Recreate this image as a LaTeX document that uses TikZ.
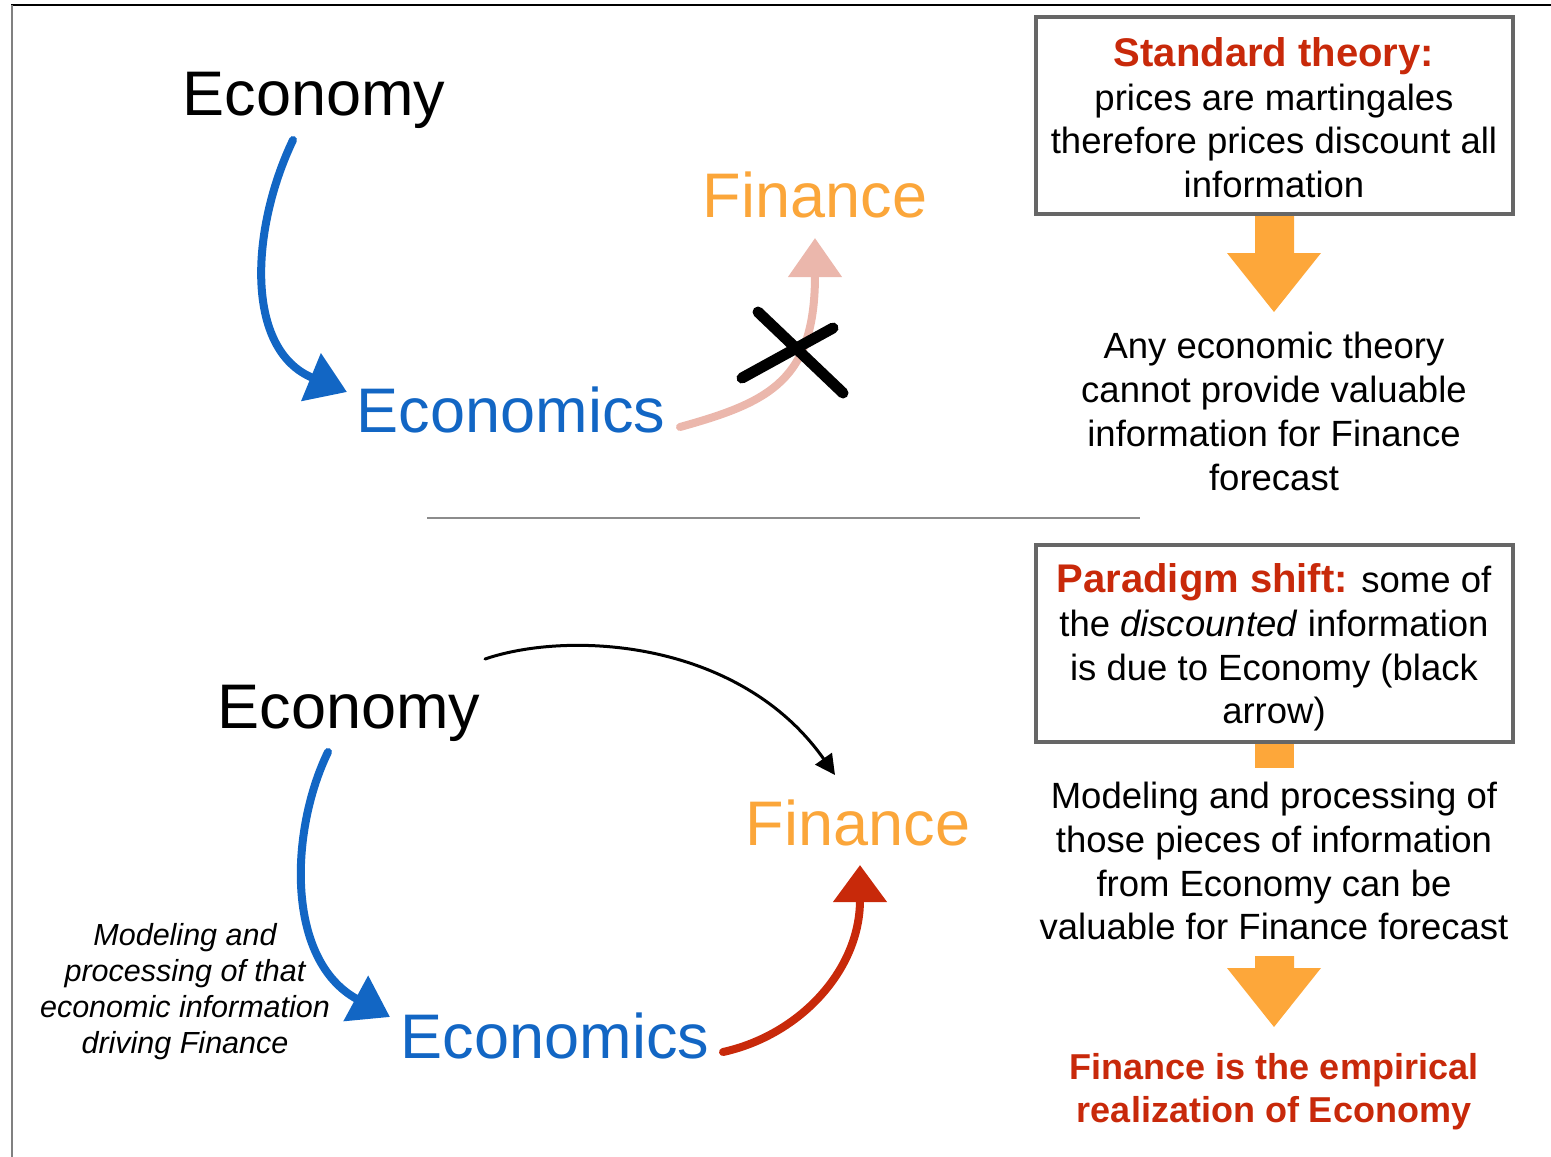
\documentclass[tikz,border=0pt]{standalone}
\usepackage{fontspec}
\setmainfont{Liberation Sans}
\usetikzlibrary{arrows.meta}
\definecolor{ecoblue}{RGB}{18,102,196}
\definecolor{finorange}{RGB}{251,166,58}
\definecolor{arrorange}{RGB}{253,167,58}
\definecolor{paradred}{RGB}{200,41,10}
\definecolor{chalkpink}{RGB}{235,183,172}
\definecolor{boxgray}{RGB}{102,102,102}
\tikzset{
  big/.style={font=\fontsize{63}{70}\selectfont, inner sep=0pt, anchor=base},
  body/.style={font=\fontsize{36.5}{43.5}\selectfont, inner sep=0pt, anchor=base},
  title/.style={font=\fontsize{40}{44}\selectfont\bfseries, text=paradred, inner sep=0pt, anchor=base},
  note/.style={font=\fontsize{30.5}{36.5}\selectfont\itshape, inner sep=0pt, anchor=base},
  concl/.style={font=\fontsize{36}{43}\selectfont\bfseries, text=paradred, inner sep=0pt, anchor=base},
  chalk/.style={line width=8pt, line cap=round, line join=round},
  infobox/.style={draw=boxgray, line width=4pt, minimum width=477pt, minimum height=197pt, inner sep=0pt},
  blockarrow/.style={fill=arrorange, draw=none},
}
\begin{document}
\begin{tikzpicture}[x=1pt,y=-1pt]
\useasboundingbox (0,0) rectangle (1551,1157);
% frame
\draw[black, line width=1.5pt] (11,5) -- (1551,5);
\draw[gray, line width=2pt] (12,5) -- (12,1157);
% separator
\draw[gray!90, line width=2pt] (427,518) -- (1140,518);

% ---------- top section ----------
\node[big] (eco1) at (314,115) {Economy};
\node[big, text=finorange] (fin1) at (815,217) {Finance};
\node[big, text=ecoblue] (ecs1) at (511,432) {Economics};

\coordinate (a1s) at (293,140);
\coordinate (a1e) at (347,392);
\draw[chalk, ecoblue, -{Triangle[length=39pt,width=50pt]}] (a1s) .. controls (250,230) and (245,350) .. (a1e);

\coordinate (b1s) at (680,427);
\coordinate (b1e) at (815,238);
\draw[chalk, chalkpink, -{Triangle[length=39pt,width=52pt]}] (b1s) .. controls (770,402) and (815,380) .. (b1e);

\coordinate (x1) at (758,312);
\coordinate (x2) at (843,393);
\coordinate (x3) at (742,378);
\coordinate (x4) at (833,328);
\draw[black, line width=11pt, line cap=round] (x1) -- (x2);
\draw[black, line width=11pt, line cap=round] (x3) -- (x4);

% right top box
\fill[blockarrow] (1255,214) -- (1294,214) -- (1294,253) -- (1321,253) -- (1274,312) -- (1227,253) -- (1255,253) -- cycle;
\node[infobox] (box1) at (1274.5,115.5) {};
\node[title] (t1) at (1274,66) {Standard theory:};
\node[body] (t2) at (1274,110) {prices are martingales};
\node[body] (t3) at (1274,153) {therefore prices discount all};
\node[body] (t4) at (1274,197) {information};

\node[body] (u1) at (1274,358) {Any economic theory};
\node[body] (u2) at (1274,402) {cannot provide valuable};
\node[body] (u3) at (1274,446) {information for Finance};
\node[body] (u4) at (1274,490) {forecast};

% ---------- bottom section ----------
\node[big] (eco2) at (349,728) {Economy};
\node[big, text=finorange] (fin2) at (858,845) {Finance};
\node[big, text=ecoblue] (ecs2) at (555,1058) {Economics};

\coordinate (c2s) at (485,659);
\coordinate (c2e) at (835,775);
\draw[black, line width=3pt, line cap=round, -{Triangle[length=20pt,width=20pt]}] (c2s) .. controls (570,630) and (740,640) .. (c2e);

\coordinate (a2s) at (328,752);
\coordinate (a2e) at (390,1017);
\draw[chalk, ecoblue, -{Triangle[length=39pt,width=50pt]}] (a2s) .. controls (290,830) and (285,960) .. (a2e);

\coordinate (r2s) at (723,1052);
\coordinate (r2e) at (860,865);
\draw[chalk, paradred, -{Triangle[length=37pt,width=52pt]}] (r2s) .. controls (800,1035) and (860,970) .. (r2e);

\node[note] (n1) at (185,945) {Modeling and};
\node[note] (n2) at (185,981) {processing of that};
\node[note] (n3) at (185,1017) {economic information};
\node[note] (n4) at (185,1053) {driving Finance};

% right bottom box
\fill[blockarrow] (1255,740) rectangle (1294,768);
\node[infobox] (box2) at (1274.5,643.5) {};
\node[body] (p1) at (1274,592) {{\fontsize{40}{44}\selectfont\bfseries\color{paradred}Paradigm shift:} some of};
\node[body] (p2) at (1274,636) {the \textit{discounted} information};
\node[body] (p3) at (1274,680) {is due to Economy (black};
\node[body] (p4) at (1274,723) {arrow)};

\node[body] (m1) at (1274,808) {Modeling and processing of};
\node[body] (m2) at (1274,852) {those pieces of information};
\node[body] (m3) at (1274,896) {from Economy can be};
\node[body] (m4) at (1274,939) {valuable for Finance forecast};

\fill[blockarrow] (1255,956) -- (1294,956) -- (1294,968) -- (1321,968) -- (1274,1027) -- (1227,968) -- (1255,968) -- cycle;

\node[concl] (f1) at (1274,1079) {Finance is the empirical};
\node[concl] (f2) at (1274,1122) {realization of Economy};
\end{tikzpicture}
\end{document}
